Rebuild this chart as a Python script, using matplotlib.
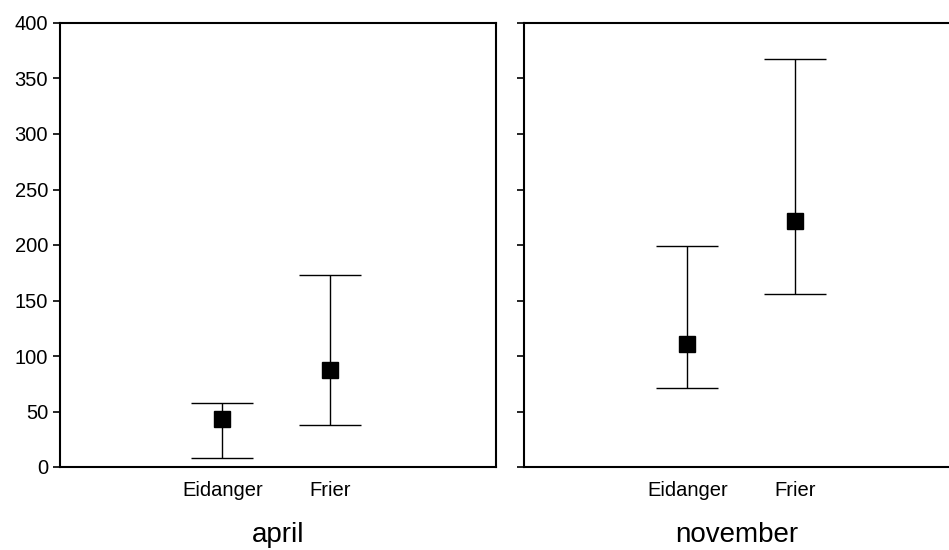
import matplotlib
matplotlib.use("Agg")
import matplotlib.pyplot as plt
import numpy as np

plt.rcParams['font.family'] = ['Liberation Sans', 'DejaVu Sans']

# Data
sites = ["Eidanger", "Frier"]
months = ["april", "november"]
means = {"april": [43, 87], "november": [111, 222]}
upper = {"april": [58, 173], "november": [199, 368]}
lower = {"april": [8, 38], "november": [71, 156]}

x_pos = np.array([1.5, 2.5])

fig = plt.figure(figsize=(9.49, 5.50), dpi=100)
ax1 = fig.add_axes([60 / 949, 1 - 467 / 550, 436 / 949, 444 / 550])
ax2 = fig.add_axes([524 / 949, 1 - 467 / 550, 425 / 949, 444 / 550])

for ax, month, xlim in [(ax1, "april", (0, 4.03)), (ax2, "november", (-0.01, 3.92))]:
    m = np.array(means[month])
    lo = m - np.array(lower[month])
    hi = np.array(upper[month]) - m
    ax.errorbar(x_pos, m, yerr=[lo, hi], fmt='s', color='black', ecolor='black',
                elinewidth=1, capsize=22, capthick=1, markersize=11.5)
    ax.set_xlim(*xlim)
    ax.set_ylim(0, 400)
    ax.set_yticks(np.arange(0, 401, 50))
    ax.set_xticks(x_pos)
    ax.set_xticklabels(sites, fontsize=14.5)
    ax.tick_params(axis='x', length=0, pad=10)
    ax.tick_params(axis='y', direction='out', length=5, width=1.2, labelsize=14.5)
    ax.set_xlabel(month, fontsize=20, labelpad=16)
    for s in ax.spines.values():
        s.set_linewidth(1.5)

ax2.tick_params(axis='y', labelleft=False)
ax2.spines['right'].set_visible(False)

fig.savefig("out.png", dpi=100)
